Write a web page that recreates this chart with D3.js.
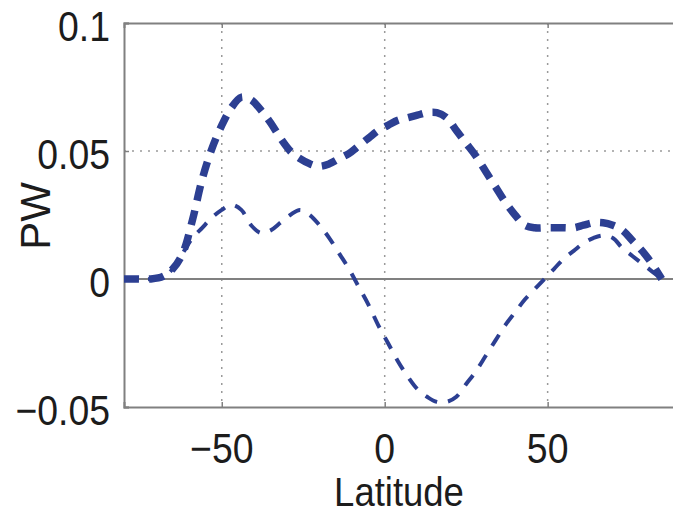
<!DOCTYPE html>
<html>
<head>
<meta charset="utf-8">
<script src="https://cdn.jsdelivr.net/npm/d3@7"></script>
<style>
  html, body { margin: 0; padding: 0; background: #fff; }
  svg { display: block; }
  text { font-family: "Liberation Sans", Arial, Helvetica, sans-serif; fill: #1c1c1c; }
</style>
</head>
<body>
<svg id="chart" width="673" height="515"></svg>
<script>
// ---- data ----
const latitude = [-80,-76,-72,-68,-65,-62,-59,-56,-53,-50,-47,-44,-41,-38,-35,-32,-29,-26,-23,-20,-17,-14,-11,-8,-5,-2,1,4,7,10,13,16,19,22,25,28,31,34,37,40,43,46,49,52,55,58,61,64,67,70,73,76,79,82,85];
const pwThick = [0,0,0,0.001,0.004,0.010,0.023,0.039,0.051,0.060,0.067,0.071,0.070,0.066,0.061,0.055,0.050,0.047,0.045,0.044,0.045,0.047,0.049,0.052,0.055,0.058,0.060,0.062,0.063,0.064,0.065,0.065,0.063,0.058,0.053,0.048,0.042,0.036,0.030,0.025,0.021,0.020,0.020,0.020,0.020,0.020,0.021,0.022,0.022,0.021,0.019,0.015,0.011,0.006,0.000];
const pwThin = [0,0,0,0.001,0.004,0.010,0.016,0.020,0.024,0.027,0.029,0.027,0.021,0.018,0.019,0.022,0.025,0.027,0.025,0.021,0.016,0.010,0.004,-0.003,-0.010,-0.018,-0.025,-0.032,-0.038,-0.043,-0.046,-0.048,-0.048,-0.046,-0.041,-0.036,-0.030,-0.024,-0.018,-0.013,-0.008,-0.004,0.000,0.004,0.008,0.011,0.014,0.016,0.017,0.016,0.012,0.009,0.006,0.003,0.000];
const xTicks = [-50, 0, 50];
const xTickLabels = ["\u221250", "0", "50"];
const yTicks = [-0.05, 0, 0.05, 0.1];
const yTickLabels = ["\u22120.05", "0", "0.05", "0.1"];
const xLabel = "Latitude";
const yLabel = "PW";

// ---- layout ----
const svg = d3.select("#chart");
const L = 124, R = 678, T = 23, B = 407;
const x = d3.scaleLinear().domain([-80, 90]).range([L, R]);
const y = d3.scaleLinear().domain([-0.05, 0.1]).range([B, T]);
const axisColor = "#808080";
const lineColor = "#2c3f92";

svg.append("rect").attr("width", 673).attr("height", 515).attr("fill", "#fff");

// grid lines (dotted)
const grid = svg.append("g");
xTicks.forEach(t => {
  grid.append("line")
    .attr("x1", x(t)).attr("x2", x(t)).attr("y1", T).attr("y2", B)
    .attr("stroke", "#9a9a9a").attr("stroke-width", 1.5).attr("stroke-dasharray", "2,6");
});
[0.05].forEach(t => {
  grid.append("line")
    .attr("x1", L).attr("x2", R).attr("y1", y(t)).attr("y2", y(t))
    .attr("stroke", "#9a9a9a").attr("stroke-width", 1.5).attr("stroke-dasharray", "2,6");
});

// zero line
svg.append("line")
  .attr("x1", L).attr("x2", R).attr("y1", y(0)).attr("y2", y(0))
  .attr("stroke", axisColor).attr("stroke-width", 2);

// axes box (via d3 axes)
const xAxisB = d3.axisBottom(x).tickValues(xTicks).tickSize(-5).tickFormat("");
const xAxisT = d3.axisTop(x).tickValues(xTicks).tickSize(-5).tickFormat("");
const yAxisL = d3.axisLeft(y).tickValues(yTicks).tickSize(-5).tickFormat("");
function styleAxis(g) {
  g.selectAll("path").attr("stroke", axisColor).attr("stroke-width", 2);
  g.selectAll("line").attr("stroke", axisColor).attr("stroke-width", 1.5);
}
svg.append("g").attr("transform", `translate(0,${B})`).call(xAxisB).call(styleAxis);
svg.append("g").attr("transform", `translate(0,${T})`).call(xAxisT).call(styleAxis);
svg.append("g").attr("transform", `translate(${L},0)`).call(yAxisL).call(styleAxis);

// lines
const mk = vals => d3.line()
  .x((d, i) => x(latitude[i]))
  .y((d) => y(d))
  .curve(d3.curveCatmullRom.alpha(0.5))(vals);

svg.append("path")
  .attr("d", mk(pwThin))
  .attr("fill", "none").attr("stroke", lineColor)
  .attr("stroke-width", 4).attr("stroke-dasharray", "13,11")
  .attr("stroke-linecap", "butt");

svg.append("path")
  .attr("d", mk(pwThick))
  .attr("fill", "none").attr("stroke", lineColor)
  .attr("stroke-width", 7.5).attr("stroke-dasharray", "15,10")
  .attr("stroke-linecap", "butt");

// tick labels
const fs = 42, sx = 0.89;
xTicks.forEach((t, i) => {
  svg.append("text")
    .attr("transform", `translate(${x(t)},463) scale(${sx},1)`)
    .attr("text-anchor", "middle")
    .attr("font-size", fs)
    .text(xTickLabels[i]);
});
yTicks.forEach((t, i) => {
  svg.append("text")
    .attr("transform", `translate(110,${y(t) + 17.5}) scale(${sx},1)`)
    .attr("text-anchor", "end")
    .attr("font-size", fs)
    .text(yTickLabels[i]);
});

// axis labels
svg.append("text")
  .attr("transform", `translate(399,506) scale(${sx},1)`)
  .attr("text-anchor", "middle")
  .attr("font-size", 41)
  .text(xLabel);

svg.append("text")
  .attr("transform", `translate(50,216) rotate(-90)`)
  .attr("text-anchor", "middle")
  .attr("font-size", fs)
  .text(yLabel);
</script>
</body>
</html>
